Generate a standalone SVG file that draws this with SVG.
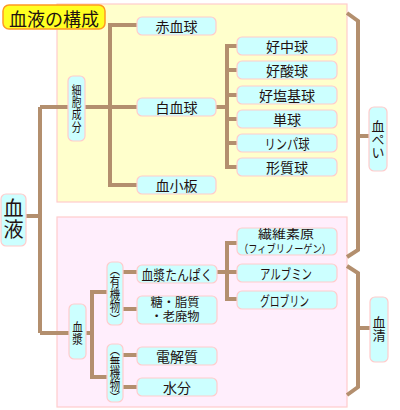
<svg xmlns="http://www.w3.org/2000/svg" width="400" height="410" viewBox="0 0 400 410">
<style>
text{font-family:"Noto Sans CJK JP","Noto Sans CJK SC",sans-serif;fill:#221111;text-anchor:middle;dominant-baseline:central}
.n{fill:#ccffff;stroke:#ffcccc;stroke-width:1.2}
.t{font-size:14px}
.vt{font-size:14px;writing-mode:vertical-rl}
.two{font-family:"Liberation Sans","Noto Sans CJK JP",sans-serif}
.c{fill:none;stroke:#b38f6e;stroke-width:4;stroke-linejoin:miter}
</style>
<rect x="0" y="0" width="400" height="410" fill="#ffffff"/>
<rect x="57" y="4" width="290" height="198" fill="#ffffcc" stroke="#ffcccc" stroke-width="1.2"/>
<rect x="57" y="217" width="290" height="190" fill="#ffeefc" stroke="#ffcccc" stroke-width="1.2"/>
<g id="title">
<rect x="3" y="5" width="102" height="24" rx="6" fill="#ffff22" stroke="#ff9922" stroke-width="1.5"/>
<text x="54" y="17.5" style="font-size:18px">血液の構成</text>
</g>
<g id="connectors">
<path class="c" d="M26 216H40M40 107V333M40 107H68M40 333H69"/>
<path class="c" d="M85 107H137M137 25H110V185H137"/>
<path class="c" d="M216 107H227M237 46H227V167H237M227 70H237M227 95H237M227 119H237M227 143H237"/>
<path class="c" d="M86 333H92M107 292H92V377H107"/>
<path class="c" d="M123 272H137M123 309H137M123 355H137M123 387H137"/>
<path class="c" d="M217 272H237M237 243H227V299H237"/>
<path class="c" d="M347 13L358 21V250L347 257M358 136H370"/>
<path class="c" d="M347 266L358 273V387L347 395M358 328H370"/>
</g>
<g id="ketsueki">
<rect class="n" x="1" y="194" width="25" height="52" rx="5"/>
<text class="vt" x="13.5" y="219" style="font-size:20px;letter-spacing:1px">血液</text>
</g>
<g id="saibou">
<rect class="n" x="68" y="76" width="17" height="65" rx="5"/>
<text class="vt" transform="translate(76.5 108.5) scale(0.78 1)" x="0" y="0" style="font-size:12.5px">細胞成分</text>
</g>
<g id="sekkekkyu">
<rect class="n" x="137" y="17" width="79" height="18" rx="5"/>
<text class="t" x="176.5" y="26">赤血球</text>
</g>
<g id="hakkekkyu">
<rect class="n" x="137" y="98" width="79" height="18" rx="5"/>
<text class="t" x="176.5" y="107">白血球</text>
</g>
<g id="kesshouban">
<rect class="n" x="137" y="176" width="79" height="18" rx="5"/>
<text class="t" x="176.5" y="185">血小板</text>
</g>
<g id="kouchukyu">
<rect class="n" x="237" y="37" width="100" height="18" rx="5"/>
<text class="t" x="287" y="46">好中球</text>
</g>
<g id="kousankyu">
<rect class="n" x="237" y="61" width="100" height="18" rx="5"/>
<text class="t" x="287" y="70">好酸球</text>
</g>
<g id="kouenkikyu">
<rect class="n" x="237" y="86" width="100" height="18" rx="5"/>
<text class="t" x="287" y="95">好塩基球</text>
</g>
<g id="tankyu">
<rect class="n" x="237" y="110" width="100" height="18" rx="5"/>
<text class="t" x="287" y="119">単球</text>
</g>
<g id="lymph">
<rect class="n" x="237" y="134" width="100" height="18" rx="5"/>
<text class="t" x="287" y="143" textLength="45" lengthAdjust="spacingAndGlyphs">リンパ球</text>
</g>
<g id="keishitsu">
<rect class="n" x="237" y="158" width="100" height="18" rx="5"/>
<text class="t" x="287" y="167">形質球</text>
</g>
<g id="keppei">
<rect class="n" x="369" y="107" width="18" height="64" rx="5"/>
<text class="vt" x="378" y="139" style="font-size:13px">血ぺい</text>
</g>
<g id="kessei">
<rect class="n" x="370" y="297" width="18" height="65" rx="5"/>
<text class="vt" x="379" y="329" style="font-size:13px">血清</text>
</g>
<g id="kesshou">
<rect class="n" x="69" y="304" width="17" height="55" rx="5"/>
<text class="vt" transform="translate(77.5 333) scale(0.85 1)" x="0" y="0" style="font-size:12.5px">血漿</text>
</g>
<g id="yuukibutsu">
<rect class="n" x="107" y="262" width="16" height="63" rx="5"/>
<text class="vt" transform="translate(115 293.5) scale(0.8 1)" x="0" y="0" style="font-size:13px;letter-spacing:-0.5px">（有機物）</text>
</g>
<g id="mukibutsu">
<rect class="n" x="107" y="344" width="16" height="58" rx="5"/>
<text class="vt" transform="translate(115 373) scale(0.8 1)" x="0" y="0" style="font-size:13px;letter-spacing:-1px">（無機物）</text>
</g>
<g id="kesshoutanpaku">
<rect class="n" x="137" y="265" width="80" height="18" rx="5"/>
<text class="t" x="177" y="274" textLength="71" lengthAdjust="spacingAndGlyphs">血漿たんぱく</text>
</g>
<g id="toushishitsu">
<rect class="n" x="137" y="296" width="80" height="28" rx="5"/>
<text class="two" style="font-size:12px"><tspan x="175" y="302.5" textLength="49" lengthAdjust="spacingAndGlyphs">糖・脂質</tspan><tspan x="175" y="317" textLength="49" lengthAdjust="spacingAndGlyphs">・老廃物</tspan></text>
</g>
<g id="denkaishitsu">
<rect class="n" x="137" y="347" width="80" height="18" rx="5"/>
<text class="t" x="177" y="356">電解質</text>
</g>
<g id="suibun">
<rect class="n" x="137" y="378" width="80" height="18" rx="5"/>
<text class="t" x="177" y="387">水分</text>
</g>
<g id="fibrinogen">
<rect class="n" x="237" y="228" width="100" height="27" rx="5"/>
<text class="two"><tspan x="286" y="234.5" style="font-size:12px" textLength="56" lengthAdjust="spacingAndGlyphs">繊維素原</tspan><tspan x="285" y="248.5" style="font-size:11px" textLength="92" lengthAdjust="spacingAndGlyphs">（フィブリノーゲン）</tspan></text>
</g>
<g id="albumin">
<rect class="n" x="237" y="264" width="100" height="18" rx="5"/>
<text class="t" x="286" y="273" textLength="52" lengthAdjust="spacingAndGlyphs">アルブミン</text>
</g>
<g id="globulin">
<rect class="n" x="237" y="291" width="100" height="18" rx="5"/>
<text class="t" x="284.5" y="300" textLength="49" lengthAdjust="spacingAndGlyphs">グロブリン</text>
</g>
</svg>
